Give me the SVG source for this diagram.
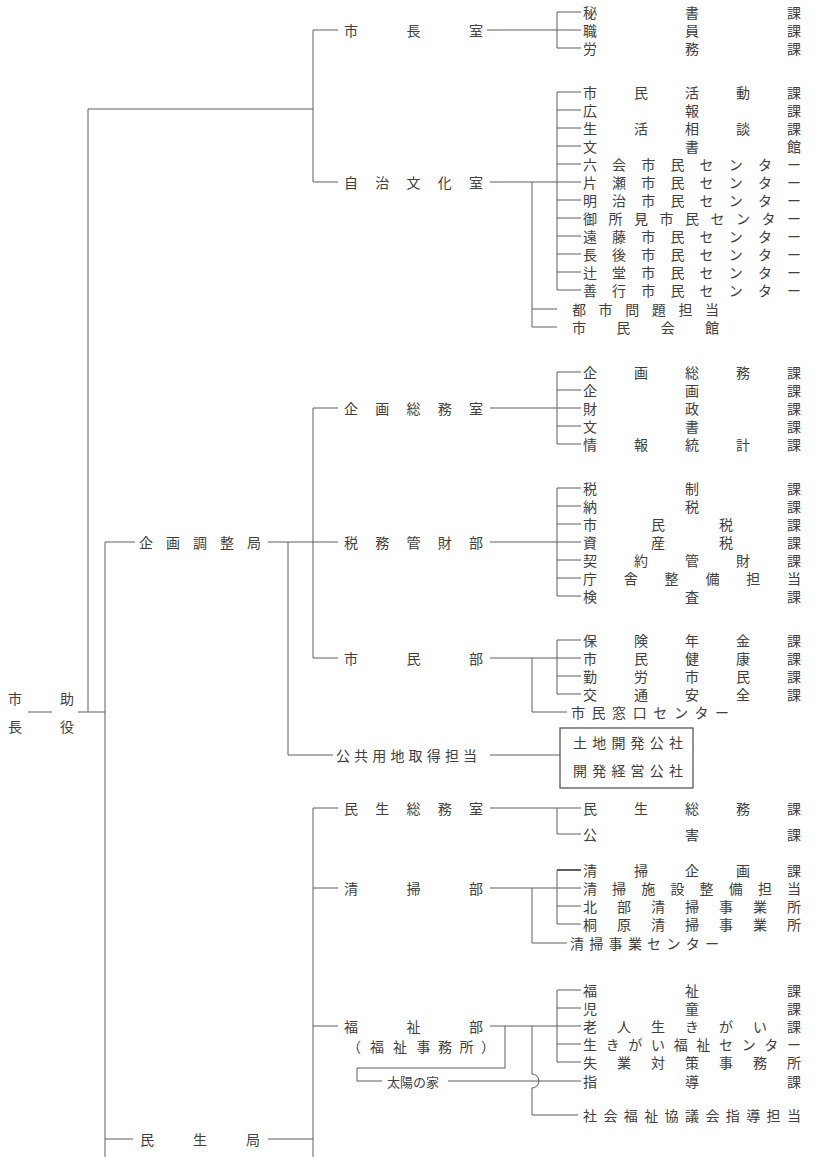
<svg xmlns="http://www.w3.org/2000/svg" width="831" height="1157" viewBox="0 0 831 1157">
<style>
.t{font-family:"Noto Sans CJK JP","Noto Sans CJK SC",sans-serif;font-size:14px;fill:#404040;text-anchor:middle;dominant-baseline:central}
.s{font-family:"Noto Sans CJK JP","Noto Sans CJK SC",sans-serif;font-size:13px;fill:#404040;dominant-baseline:central}
.c{fill:none;stroke:#5e5e5e;stroke-width:1}
.box{fill:none;stroke:#4a4a4a;stroke-width:1.2}
</style>
<rect width="831" height="1157" fill="#ffffff"/>
<g id="connectors" class="c">
<path d="M88,109 H313 M88,109 V712 M28,712 H52 M78,712 H105 M105,542 V1157"/>
<path d="M313,30 V182 M313,30 H338 M313,182 H338"/>
<path d="M487,30 H581 M581,12 H557 V48 H581"/>
<path d="M490,182 H581 M581,92 H557 V290 H581 M557,110 H581 M557,128 H581 M557,146 H581 M557,164 H581 M557,200 H581 M557,218 H581 M557,236 H581 M557,254 H581 M557,272 H581"/>
<path d="M532,182 V327 H557 M532,309 H557"/>
<path d="M313,408 V658 M313,408 H338 M313,658 H338 M105,542 H135 M268,542 H338 M288,542 V755 H333"/>
<path d="M490,408 H581 M581,372 H557 V444 H581 M557,390 H581 M557,426 H581"/>
<path d="M490,542 H581 M581,488 H557 V596 H581 M557,506 H581 M557,524 H581 M557,560 H581 M557,578 H581"/>
<path d="M490,658 H581 M581,640 H557 V694 H581 M557,676 H581 M532,658 V712 H567"/>
<path d="M490,755 H560"/>
<path d="M313,808 V1157 M313,808 H338 M313,888 H338 M313,1026 H338 M105,1139 H133 M268,1139 H313"/>
<path d="M490,808 H581 M557,808 V834 H581"/>
<path d="M490,888 H581 M557,870 V924 H581 M557,906 H581 M532,888 V943 H567"/>
<path d="M557,870 H581" stroke-width="2"/>
<path d="M490,1026 H581 M581,990 H557 V1062 H581 M557,1008 H581 M557,1044 H581"/>
<path d="M505,1026 V1068 H357 V1081 H382 M448,1081 H581"/>
<path d="M532,1026 V1074 A7,7 0 0 1 532,1088 V1115 H578"/>
</g>
<g id="mayor"><text class="t" x="15" y="698">市</text><text class="t" x="15" y="726">長</text></g>
<g id="deputy"><text class="t" x="67" y="698">助</text><text class="t" x="67" y="726">役</text></g>
<g id="shichoshitsu"><text class="t" x="351 413.5 476" y="30">市長室</text></g>
<g id="hisho"><text class="t" x="590 692 794" y="12">秘書課</text></g>
<g id="shokuin"><text class="t" x="590 692 794" y="30">職員課</text></g>
<g id="romu"><text class="t" x="590 692 794" y="48">労務課</text></g>
<g id="jichi"><text class="t" x="351 382.3 413.5 444.8 476" y="182">自治文化室</text></g>
<g id="n1"><text class="t" x="590 641 692 743 794" y="92">市民活動課</text></g>
<g id="n2"><text class="t" x="590 692 794" y="110">広報課</text></g>
<g id="n3"><text class="t" x="590 641 692 743 794" y="128">生活相談課</text></g>
<g id="n4"><text class="t" x="590 692 794" y="146">文書館</text></g>
<g id="n5"><text class="t" x="590 619.1 648.3 677.4 706.6 735.7 764.9 794" y="164">六会市民センター</text></g>
<g id="n6"><text class="t" x="590 619.1 648.3 677.4 706.6 735.7 764.9 794" y="182">片瀬市民センター</text></g>
<g id="n7"><text class="t" x="590 619.1 648.3 677.4 706.6 735.7 764.9 794" y="200">明治市民センター</text></g>
<g id="n8"><text class="t" x="590 615.5 641 666.5 692 717.5 743 768.5 794" y="218">御所見市民センター</text></g>
<g id="n9"><text class="t" x="590 619.1 648.3 677.4 706.6 735.7 764.9 794" y="236">遠藤市民センター</text></g>
<g id="n10"><text class="t" x="590 619.1 648.3 677.4 706.6 735.7 764.9 794" y="254">長後市民センター</text></g>
<g id="n11"><text class="t" x="590 619.1 648.3 677.4 706.6 735.7 764.9 794" y="272">辻堂市民センター</text></g>
<g id="n12"><text class="t" x="590 619.1 648.3 677.4 706.6 735.7 764.9 794" y="290">善行市民センター</text></g>
<g id="n13"><text class="t" x="579 605.6 632.2 658.8 685.4 712" y="309">都市問題担当</text></g>
<g id="n14"><text class="t" x="579 623.3 667.7 712" y="327">市民会館</text></g>
<g id="kikakusomushitsu"><text class="t" x="351 382.3 413.5 444.8 476" y="408">企画総務室</text></g>
<g id="k1"><text class="t" x="590 641 692 743 794" y="372">企画総務課</text></g>
<g id="k2"><text class="t" x="590 692 794" y="390">企画課</text></g>
<g id="k3"><text class="t" x="590 692 794" y="408">財政課</text></g>
<g id="k4"><text class="t" x="590 692 794" y="426">文書課</text></g>
<g id="k5"><text class="t" x="590 641 692 743 794" y="444">情報統計課</text></g>
<g id="kikakuchoseikyoku"><text class="t" x="146 173 200 227 254" y="542">企画調整局</text></g>
<g id="zeimu"><text class="t" x="351 382.3 413.5 444.8 476" y="542">税務管財部</text></g>
<g id="z1"><text class="t" x="590 692 794" y="488">税制課</text></g>
<g id="z2"><text class="t" x="590 692 794" y="506">納税課</text></g>
<g id="z3"><text class="t" x="590 658 726 794" y="524">市民税課</text></g>
<g id="z4"><text class="t" x="590 658 726 794" y="542">資産税課</text></g>
<g id="z5"><text class="t" x="590 641 692 743 794" y="560">契約管財課</text></g>
<g id="z6"><text class="t" x="590 630.8 671.6 712.4 753.2 794" y="578">庁舎整備担当</text></g>
<g id="z7"><text class="t" x="590 692 794" y="596">検査課</text></g>
<g id="shiminbu"><text class="t" x="351 413.5 476" y="658">市民部</text></g>
<g id="s1"><text class="t" x="590 641 692 743 794" y="640">保険年金課</text></g>
<g id="s2"><text class="t" x="590 641 692 743 794" y="658">市民健康課</text></g>
<g id="s3"><text class="t" x="590 641 692 743 794" y="676">勤労市民課</text></g>
<g id="s4"><text class="t" x="590 641 692 743 794" y="694">交通安全課</text></g>
<g id="s5"><text class="t" x="578 598.6 619.1 639.7 660.3 680.9 701.4 722" y="712">市民窓口センター</text></g>
<g id="kokyoyochi"><text class="t" x="343 361.1 379.3 397.4 415.6 433.7 451.9 470" y="755">公共用地取得担当</text></g>
<g id="kosha"><rect class="box" x="560" y="728" width="133" height="60"/><text class="t" x="580 599.2 618.4 637.6 656.8 676" y="742">土地開発公社</text><text class="t" x="580 599.2 618.4 637.6 656.8 676" y="770">開発経営公社</text></g>
<g id="minseikyoku"><text class="t" x="147 200 253" y="1139">民生局</text></g>
<g id="minseisomushitsu"><text class="t" x="351 382.3 413.5 444.8 476" y="808">民生総務室</text></g>
<g id="m1"><text class="t" x="590 641 692 743 794" y="808">民生総務課</text></g>
<g id="m2"><text class="t" x="590 692 794" y="834">公害課</text></g>
<g id="seisobu"><text class="t" x="351 413.5 476" y="888">清掃部</text></g>
<g id="c1"><text class="t" x="590 641 692 743 794" y="870">清掃企画課</text></g>
<g id="c2"><text class="t" x="590 619.1 648.3 677.4 706.6 735.7 764.9 794" y="888">清掃施設整備担当</text></g>
<g id="c3"><text class="t" x="590 624 658 692 726 760 794" y="906">北部清掃事業所</text></g>
<g id="c4"><text class="t" x="590 624 658 692 726 760 794" y="924">桐原清掃事業所</text></g>
<g id="c5"><text class="t" x="577 596.3 615.6 634.9 654.1 673.4 692.7 712" y="943">清掃事業センター</text></g>
<g id="fukushibu"><text class="t" x="351 413.5 476" y="1026">福祉部</text><text class="t" x="354 377 400 423.5 445 466.5 488" y="1046">（福祉事務所）</text></g>
<g id="f1"><text class="t" x="590 692 794" y="990">福祉課</text></g>
<g id="f2"><text class="t" x="590 692 794" y="1008">児童課</text></g>
<g id="f3"><text class="t" x="590 624 658 692 726 760 794" y="1026">老人生きがい課</text></g>
<g id="f4"><text class="t" x="590 612.7 635.3 658 680.7 703.3 726 748.7 771.3 794" y="1044">生きがい福祉センター</text></g>
<g id="f5"><text class="t" x="590 624 658 692 726 760 794" y="1062">失業対策事務所</text></g>
<g id="taiyonoie"><text class="s" x="387" y="1081">太陽の家</text></g>
<g id="f6"><text class="t" x="590 692 794" y="1081">指導課</text></g>
<g id="f7"><text class="t" x="590 610.4 630.8 651.2 671.6 692 712.4 732.8 753.2 773.6 794" y="1115">社会福祉協議会指導担当</text></g>
</svg>
